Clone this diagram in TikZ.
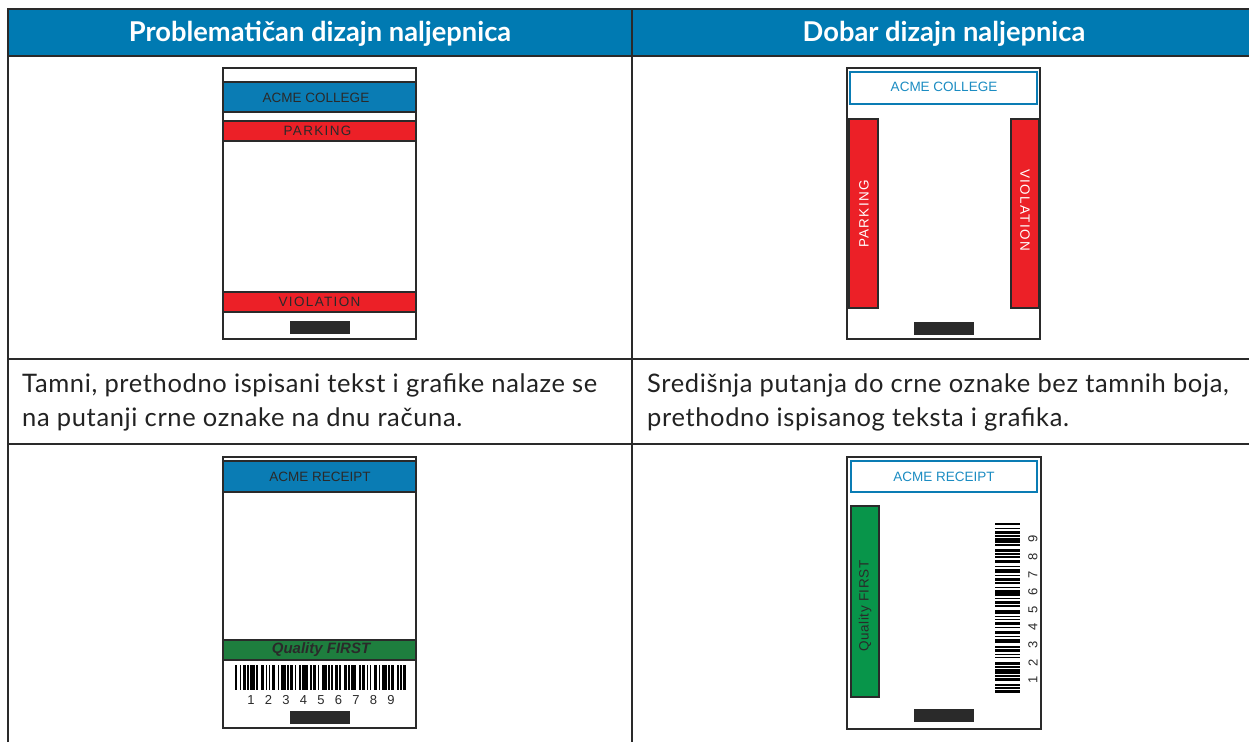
\documentclass[tikz,border=0pt]{standalone}
\usepackage{fontspec}
\setmainfont{Lato}
\newfontfamily\lblfont{Liberation Sans}
\definecolor{hdrblue}{HTML}{007AB2}
\definecolor{bandblue}{HTML}{0A7CB4}
\definecolor{txtblue}{HTML}{1B8CC2}
\definecolor{lred}{HTML}{EC2027}
\definecolor{dgreen}{HTML}{1E7E3E}
\definecolor{lgreen}{HTML}{08954A}
\definecolor{linec}{HTML}{2A2A2A}
\definecolor{dtext}{HTML}{2A2A2A}
\definecolor{bodyc}{HTML}{222222}

\newcount\bcn
\newcommand\hbars[5]{%
  \xdef\bcx{#1}\global\bcn=0
  \foreach \w in #5 {%
    \pgfmathsetmacro\nx{\bcx+#4*\w}%
    \ifodd\bcn\else\fill[black] (\bcx,#2) rectangle (\nx,#2+#3);\fi
    \xdef\bcx{\nx}%
    \global\advance\bcn by 1
  }}
\newcommand\vbars[5]{%
  \xdef\bcx{#2}\global\bcn=0
  \foreach \w in #5 {%
    \pgfmathsetmacro\nx{\bcx+#4*\w}%
    \ifodd\bcn\else\fill[black] (#1,\bcx) rectangle (#1+#3,\nx);\fi
    \xdef\bcx{\nx}%
    \global\advance\bcn by 1
  }}
\def\barpattern{1,2,1,1,2,1,1,1,3,1,1,2,2,1,1,1,1,1,2,2,1,1,3,1,1,1,2,1,1,2,1,1,4,1,1,1,2,1,1,2,3,1,1,1,1,1,2,1,1,2,2,1,1,1,3,2,1,1,2,1,1,1,1,2,2,1,1,1,3,1,1,1,2,2,1,1,1,1,2,1}

\begin{document}
\begin{tikzpicture}[x=1pt,y=-1pt,
  tbl/.style={draw=linec, line width=2pt},
  band/.style={draw=linec, line width=2pt},
  outer/.style={draw=linec, line width=2.5pt},
  blbox/.style={draw=bandblue, line width=2pt, fill=white},
  blackmark/.style={fill=linec},
  hdrtext/.style={text=white, anchor=base, inner sep=0pt, font=\fontsize{27.3}{30}\selectfont\bfseries},
  bodytext/.style={text=bodyc, anchor=base west, inner sep=0pt, font=\fontsize{25.5}{30}\selectfont\addfontfeatures{LetterSpace=2.5}},
  lbl/.style={inner sep=0pt, font=\lblfont\fontsize{13.5}{13.5}\selectfont},
  digit/.style={inner sep=0pt, text=dtext, font=\lblfont\fontsize{13}{13}\selectfont}
]
\useasboundingbox (0,0) rectangle (1249,742);
\fill[white] (0,0) rectangle (1249,742);

% ---- table ----
\fill[hdrblue] (7.5,9) rectangle (1252,56);
\draw[tbl] (7.5,742) -- (7.5,9) -- (1252,9);
\draw[tbl] (7.5,56) -- (1252,56);
\draw[tbl] (632,9) -- (632,742);
\draw[tbl] (7.5,359) -- (1252,359);
\draw[tbl] (7.5,444) -- (1252,444);
\node[hdrtext] (h1) at (320,41) {Problematičan dizajn naljepnica};
\node[hdrtext] (h2) at (944,41) {Dobar dizajn naljepnica};
\node[bodytext] (t1a) at (22,392) {Tamni, prethodno ispisani tekst i grafike nalaze se};
\node[bodytext] (t1b) at (22,426) {na putanji crne oznake na dnu računa.};
\node[bodytext] (t2a) at (647,392) {Središnja putanja do crne oznake bez tamnih boja,};
\node[bodytext] (t2b) at (647,426) {prethodno ispisanog teksta i grafika.};

% ---- panel 1 ----
\draw[band, fill=bandblue] (223,82) rectangle (416,112);
\draw[band, fill=lred] (223,121) rectangle (416,141);
\draw[band, fill=lred] (223,292) rectangle (416,312);
\draw[outer] (223,68) rectangle (416,339);
\fill[blackmark] (290,321) rectangle (350,334);
\node[lbl, text=dtext] (p1a) at (316,97.5) {ACME COLLEGE};
\node[lbl, text=dtext] (p1b) at (317.5,131) {\addfontfeatures{LetterSpace=10}PARKING};
\node[lbl, text=dtext] (p1c) at (319.5,302) {\addfontfeatures{LetterSpace=10}VIOLATION};

% ---- panel 2 ----
\draw[blbox] (850,72) rectangle (1037,104);
\draw[band, fill=lred] (849,119) rectangle (878,308);
\draw[band, fill=lred] (1011,119) rectangle (1039,308);
\draw[outer] (847,68) rectangle (1040,339);
\fill[blackmark] (914,322) rectangle (974,335);
\node[lbl, text=txtblue] (p2a) at (944,87) {ACME COLLEGE};
\node[lbl, text=white, rotate=90] (p2b) at (864,214) {\addfontfeatures{LetterSpace=10}PARKING};
\node[lbl, text=white, rotate=-90] (p2c) at (1025,210) {\addfontfeatures{LetterSpace=10}VIOLATION};

% ---- panel 3 ----
\draw[band, fill=bandblue] (223,461) rectangle (416,492);
\draw[band, fill=dgreen] (223,640) rectangle (416,660);
\draw[outer] (223,457) rectangle (416,728);
\hbars{235}{665}{25}{1.531}{\barpattern}
\fill[blackmark] (290,711) rectangle (350,724);
\node[lbl, text=dtext] (p3a) at (320,477) {ACME RECEIPT};
\node[lbl, text=dtext, font=\lblfont\fontsize{15}{15}\selectfont\bfseries\itshape] (p3b) at (321,650) {Quality FIRST};
\foreach \i in {1,...,9}{
  \node[digit] (p3d\i) at ({251+17.5*(\i-1)},700) {\i};
}

% ---- panel 4 ----
\draw[blbox] (851,461) rectangle (1037,492);
\draw[band, fill=lgreen] (851,506) rectangle (879,697);
\draw[outer] (847,457) rectangle (1041,729);
\vbars{995}{523}{25}{1.522}{\barpattern}
\fill[blackmark] (914,709) rectangle (974,722);
\node[lbl, text=txtblue] (p4a) at (944,477) {ACME RECEIPT};
\node[lbl, text=dtext, rotate=90] (p4b) at (865,606) {\addfontfeatures{LetterSpace=4}Quality FIRST};
\foreach \i in {1,...,9}{
  \node[digit, rotate=90] (p4d\i) at (1033,{680-17.6*(\i-1)}) {\i};
}
\end{tikzpicture}
\end{document}
